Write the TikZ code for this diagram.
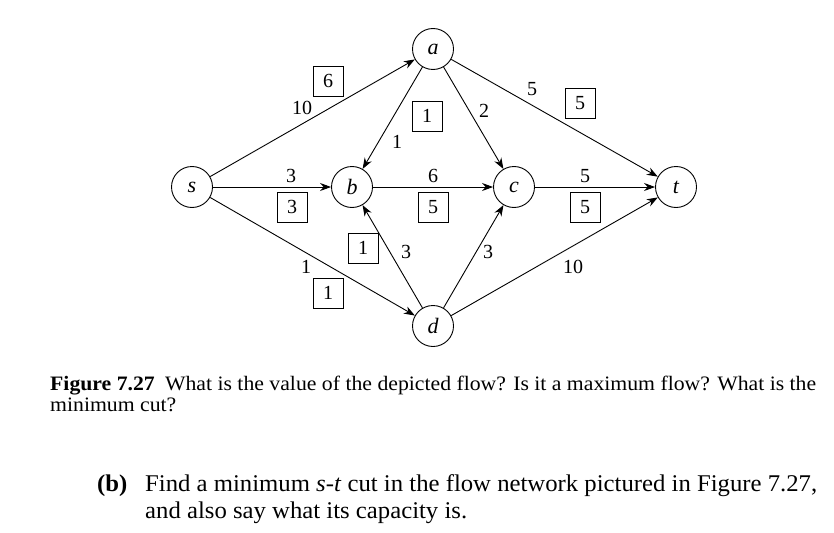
\documentclass[tikz,border=0pt]{standalone}
\usepackage{fontspec}
\setmainfont{Liberation Serif}
\newfontfamily\capfont[FakeStretch=1.06]{Liberation Serif}
\newfontfamily\qfont[FakeStretch=1.03]{Liberation Serif}
\usetikzlibrary{arrows.meta}
\begin{document}
\begin{tikzpicture}[x=1pt,y=-1pt,
  vtx/.style={circle,draw,line width=0.9pt,minimum size=41pt,inner sep=0pt,font=\fontsize{22}{24}\selectfont\itshape},
  edge/.style={line width=0.9pt,-{Stealth[length=11pt,width=8pt]}},
  captxt/.style={anchor=base west,inner sep=0pt,font=\fontsize{20.5}{24}\capfont},
  qtxt/.style={anchor=base west,inner sep=0pt,font=\fontsize{24}{28}\qfont},
  flow/.style={draw,line width=0.8pt,minimum size=30pt,inner sep=0pt,font=\fontsize{20}{22}\selectfont},
  lbl/.style={inner sep=0pt,font=\fontsize{20}{22}\selectfont}]
\useasboundingbox (0,0) rectangle (834,532);
\node[vtx] (s) at (192,187) {s};
\node[vtx] (a) at (433,49) {a};
\node[vtx] (b) at (352,187) {b};
\node[vtx] (c) at (514,187) {c};
\node[vtx] (t) at (676,187) {t};
\node[vtx] (d) at (433,326) {d};
\draw[edge] (s) -- (a);
\draw[edge] (s) -- (b);
\draw[edge] (s) -- (d);
\draw[edge] (a) -- (b);
\draw[edge] (a) -- (c);
\draw[edge] (a) -- (t);
\draw[edge] (b) -- (c);
\draw[edge] (c) -- (t);
\draw[edge] (d) -- (b);
\draw[edge] (d) -- (c);
\draw[edge] (d) -- (t);
% capacities
\node[lbl] (l1) at (302,108) {10};
\node[lbl] (l2) at (397,142) {1};
\node[lbl] (l3) at (291,176) {3};
\node[lbl] (l4) at (433,176) {6};
\node[lbl] (l5) at (484,111) {2};
\node[lbl] (l6) at (532,89) {5};
\node[lbl] (l7) at (585,176) {5};
\node[lbl] (l8) at (406,252) {3};
\node[lbl] (l9) at (306,267) {1};
\node[lbl] (l10) at (488,252) {3};
\node[lbl] (l11) at (573,267) {10};
% flows
\node[flow] (f1) at (328,81) {6};
\node[flow] (f2) at (427,116) {1};
\node[flow] (f3) at (292,207) {3};
\node[flow] (f4) at (433,207) {5};
\node[flow] (f5) at (580,103) {5};
\node[flow] (f6) at (585,207) {5};
\node[flow] (f7) at (363,248) {1};
\node[flow] (f8) at (328,293) {1};
% caption
\node[captxt] (cap1) at (50,390)
  {\textbf{Figure 7.27}\enspace What is the value of the depicted flow? Is it a maximum flow? What is the};
\node[captxt] (cap2) at (50,411) {minimum cut?};
\node[qtxt] (qb) at (97,491) {\textbf{(b)}};
\node[qtxt] (q1) at (145,491)
  {Find a minimum \textit{s-t} cut in the flow network pictured in Figure 7.27,};
\node[qtxt] (q2) at (145,518) {and also say what its capacity is.};
\end{tikzpicture}
\end{document}
